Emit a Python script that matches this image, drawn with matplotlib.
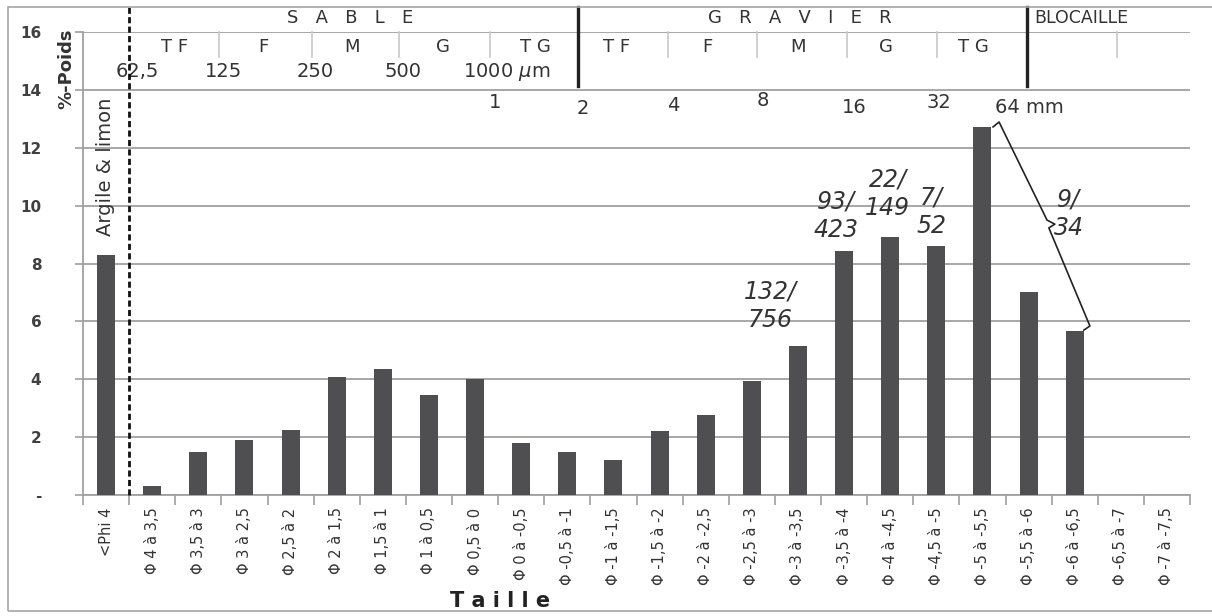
import matplotlib.pyplot as plt
import matplotlib.patches as mpatches

# grain size classes (phi) and weight percent
classes = ['<Phi 4', 'Φ 4 à 3,5', 'Φ 3,5 à 3', 'Φ 3 à 2,5', 'Φ 2,5 à 2', 'Φ 2 à 1,5',
           'Φ 1,5 à 1', 'Φ 1 à 0,5', 'Φ 0,5 à 0', 'Φ 0 à -0,5', 'Φ -0,5 à -1',
           'Φ -1 à -1,5', 'Φ -1,5 à -2', 'Φ -2 à -2,5', 'Φ -2,5 à -3', 'Φ -3 à -3,5',
           'Φ -3,5 à -4', 'Φ -4 à -4,5', 'Φ -4,5 à -5', 'Φ -5 à -5,5', 'Φ -5,5 à -6',
           'Φ -6 à -6,5', 'Φ -6,5 à -7', 'Φ -7 à -7,5']
poids = [8.3, 0.3, 1.5, 1.9, 2.25, 4.07, 4.35, 3.47, 4.0, 1.8, 1.5,
         1.21, 2.2, 2.77, 3.93, 5.15, 8.43, 8.91, 8.62, 12.72, 7.01, 5.67, 0, 0]

yticks = [0, 2, 4, 6, 8, 10, 12, 14, 16]
ytick_labels = ['-', '2', '4', '6', '8', '10', '12', '14', '16']

# counts written over some bars
frac_txt = ['132/\n756', '93/\n423', '22/\n149', '7/\n52', '9/\n34']

# header text
sable_sub = ['T F', 'F', 'M', 'G', 'T G']
gravier_sub = ['T F', 'F', 'M', 'G', 'T G']
um_labels = ['62,5', '125', '250', '500']
mm_labels = ['1', '2', '4', '8', '16', '32']

fig = plt.figure(figsize=(12.12, 6.16), dpi=100)
W, H = 1212, 616
ax = fig.add_axes([83 / W, 1 - 495 / H, (1190 - 83) / W, (495 - 32) / H])

# outer frame
fig.patches.append(mpatches.Rectangle((8 / W, 5 / H), 1.2, 1 - 12 / H, transform=fig.transFigure,
                                      fill=False, edgecolor='#a6a6a6', linewidth=1.2))

x = list(range(len(classes)))
ax.bar(x, poids, width=0.39, color='#4f4f51', zorder=3)

ax.set_xlim(-0.5, len(classes) - 0.5)
ax.set_ylim(0, 16)
ax.set_yticks(yticks)
ax.set_yticklabels(ytick_labels, fontsize=11, fontweight='bold', color='#404040')
ax.yaxis.grid(True, color='#a0a0a0', linewidth=1.3, zorder=0)
ax.set_axisbelow(True)

ax.set_xticks([i - 0.5 for i in range(len(classes) + 1)], minor=False)
ax.set_xticklabels([])
ax.set_xticks(x, minor=True)
ax.set_xticklabels(classes, minor=True, rotation=90, fontsize=10.5, color='#333333')
ax.tick_params(axis='x', which='major', length=7, width=1.2, color='#a0a0a0', direction='out')
ax.tick_params(axis='x', which='minor', length=0, pad=9)
ax.tick_params(axis='y', length=6, width=1.2, color='#a0a0a0', pad=24)
for lab in ax.get_yticklabels():
    lab.set_horizontalalignment('right')

for s in ['top', 'right']:
    ax.spines[s].set_visible(False)
for s in ['left', 'bottom']:
    ax.spines[s].set_color('#a0a0a0')
    ax.spines[s].set_linewidth(1.3)

fig.text(66 / W, 1 - 69 / H, '%-Poids', rotation=90, ha='center', va='center',
         fontsize=13, fontweight='bold', color='#333333')
fig.text(500 / W, 1 - 601 / H, 'T a i l l e', ha='center', va='center',
         fontsize=15, fontweight='semibold', color='#222222')

txt = dict(clip_on=False, color='#333333', ha='center', va='center')

# dashed line argile / sable
ax.plot([0.5, 0.5], [0, 16.95], color='#111111', linestyle=(0, (2.2, 1.2)), linewidth=2,
        clip_on=False, zorder=4)
ax.text(-0.02, 11.33, 'Argile & limon', rotation=90, fontsize=14, **txt)

# solid separators sable / gravier / blocaille
for xs in [10.23, 19.97]:
    ax.plot([xs, xs], [14.12, 16.86], color='#222222', linewidth=2.4, clip_on=False)

# thin separators between sub-classes
for xs in [2.45, 4.46, 6.35, 8.32, 12.18, 14.11, 16.06, 18.01, 21.92]:
    ax.plot([xs, xs], [15.12, 16], color='#c8c8c8', linewidth=1.2, clip_on=False)

ax.text(5.29, 16.48, 'S   A   B   L   E', fontsize=13, **txt)
ax.text(15.04, 16.48, 'G   R   A   V   I   E   R', fontsize=13, **txt)
ax.text(20.12, 16.48, 'BLOCAILLE', fontsize=12.5, clip_on=False, color='#333333',
        ha='left', va='center')

for xs, lab in zip([1.49, 3.40, 5.33, 7.30, 9.30], sable_sub):
    ax.text(xs, 15.48, lab, fontsize=13, **txt)
for xs, lab in zip([11.06, 13.03, 15.0, 16.91, 18.8], gravier_sub):
    ax.text(xs, 15.48, lab, fontsize=13, **txt)

for xs, lab in zip([0.67, 2.54, 4.53, 6.44], um_labels):
    ax.text(xs, 14.62, lab, fontsize=14, **txt)
ax.text(7.74, 14.62, '1000 $\\mu$m', fontsize=14, clip_on=False, color='#333333',
        ha='left', va='center')

for xs, ys, lab in zip([8.43, 10.34, 12.29, 14.24, 16.22, 18.06],
                       [13.55, 13.37, 13.45, 13.62, 13.4, 13.55], mm_labels):
    ax.text(xs, ys, lab, fontsize=14, **txt)
ax.text(19.27, 13.4, '64 mm', fontsize=14, clip_on=False, color='#333333',
        ha='left', va='center')

# counts over the coarse bars
for (xs, ys), lab in zip([(14.4, 6.53), (15.82, 9.64), (16.94, 10.4), (17.9, 9.78),
                          (20.87, 9.71)], frac_txt):
    ax.text(xs, ys, lab, fontsize=17, style='italic', linespacing=1.25, **txt)

# brace over the last coarse bars
bx = [19.23, 19.36, 20.4, 20.57, 20.44, 21.33, 21.2]
by = [12.72, 12.89, 9.50, 9.36, 9.23, 5.84, 5.70]
ax.plot(bx, by, color='#222222', linewidth=1.2, zorder=4)

fig.savefig('out.png', dpi=100)
